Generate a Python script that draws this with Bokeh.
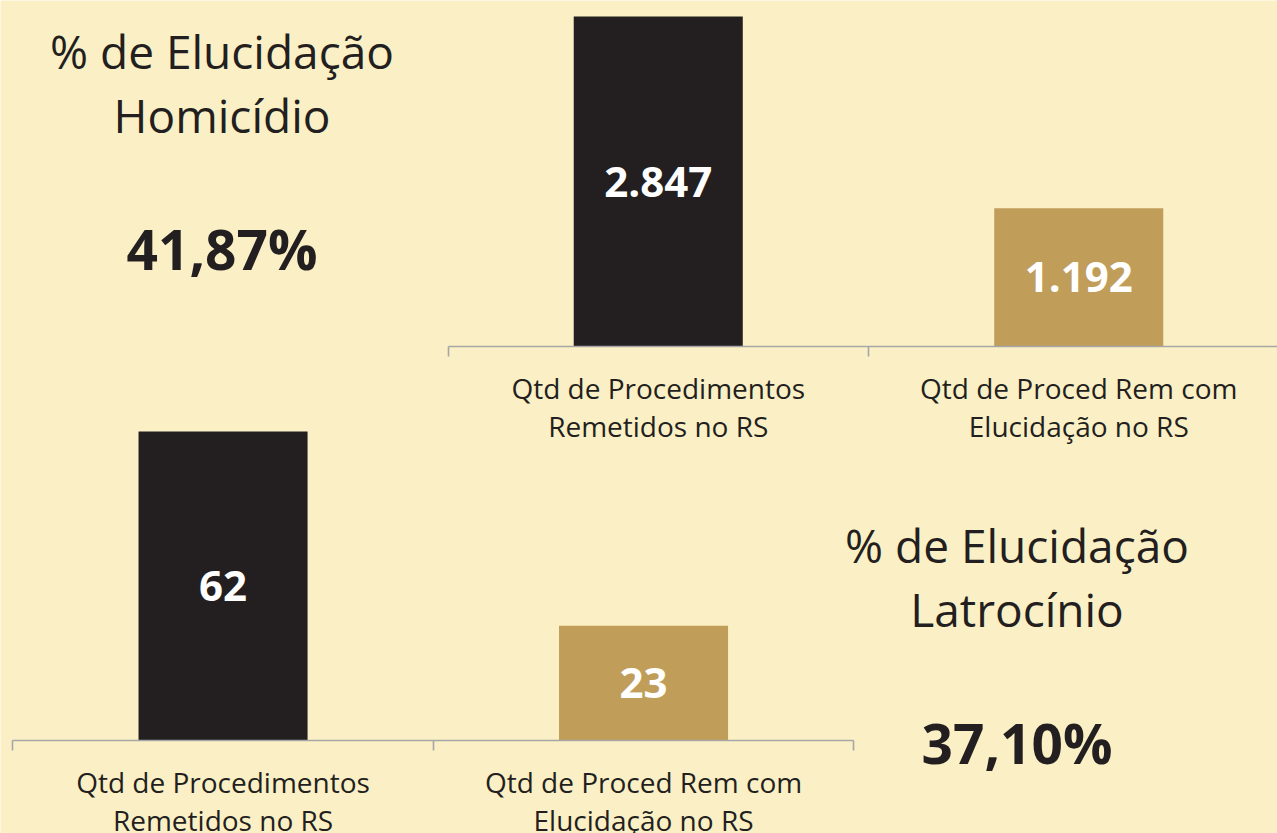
from bokeh.plotting import figure
from bokeh.models import Range1d, LinearAxis, FixedTicker, Label
from bokeh.core.properties import value
from bokeh.embed import file_html
from bokeh.resources import INLINE

# ---- data ----
categories = ["Qtd de Procedimentos\nRemetidos no RS",
              "Qtd de Proced Rem com\nElucidação no RS"]
homicidio_values = [2847, 1192]
latrocinio_values = [62, 23]
homicidio_title = ["% de Elucidação", "Homicídio"]
latrocinio_title = ["% de Elucidação", "Latrocínio"]
bar_colors = ["#231f20", "#c19d5a"]

BG = "#fbf0c5"
INK = "#231f20"
AXIS = "#a6a6a6"
FONT = "Open Sans"

W, H = 1277, 833
OFF = 0  # primary ranges are page pixel coordinates


def fmt_int(v):
    return f"{v:,}".replace(",", ".")


def fmt_pct(a, b):
    return f"{100.0 * a / b:.2f}".replace(".", ",") + "%"


def y_range(zero_px, top_px, top_val):
    s = (zero_px - top_px) / top_val
    return Range1d(start=-(OFF + H - zero_px) / s, end=(zero_px - OFF) / s)


def x_range(left_px, cat_w):
    # category i centred at i+1, boundaries at i+0.5
    return Range1d(start=0.5 + (OFF - left_px) / cat_w,
                   end=0.5 + (OFF + W - left_px) / cat_w)


p = figure(width=W, height=H, output_backend="svg", toolbar_location=None,
           x_range=Range1d(OFF, OFF + W), y_range=Range1d(OFF + H, OFF),
           x_axis_type=None, y_axis_type=None, min_border=0,
           background_fill_color=BG, border_fill_color=BG,
           outline_line_color=None)
p.grid.visible = False

p.extra_x_ranges = {"xt": x_range(447.5, 420.5), "xb": x_range(12.3, 420.5)}
p.extra_y_ranges = {"yt": y_range(346, 16, max(homicidio_values)),
                    "yb": y_range(740, 431, max(latrocinio_values))}

xs = [i + 1 for i in range(len(categories))]

for vals, xn, yn in [(homicidio_values, "xt", "yt"), (latrocinio_values, "xb", "yb")]:
    p.vbar(x=xs, top=vals, bottom=0, width=0.402, fill_color=bar_colors,
           line_color=None, x_range_name=xn, y_range_name=yn)
    p.text(x=xs, y=[v / 2 for v in vals], text=[fmt_int(v) for v in vals],
           x_range_name=xn, y_range_name=yn, text_align="center",
           text_baseline="middle", text_color="white",
           text_font=value(FONT), text_font_style="bold",
           text_font_size="42px")
    ax = LinearAxis(x_range_name=xn, y_range_name=yn, fixed_location=0,
                    ticker=FixedTicker(ticks=xs,
                                       minor_ticks=[i + 0.5 for i in range(len(categories) + 1)]),
                    bounds=(0.5, len(categories) + 0.5),
                    major_label_overrides={x: c for x, c in zip(xs, categories)})
    ax.axis_line_color = AXIS
    ax.axis_line_width = 1.6
    ax.major_tick_line_color = None
    ax.major_tick_out = 0
    ax.major_tick_in = 0
    ax.minor_tick_line_color = AXIS
    ax.minor_tick_line_width = 1.6
    ax.minor_tick_out = 10
    ax.minor_tick_in = 0
    ax.major_label_standoff = 12
    ax.major_label_text_font = FONT
    ax.major_label_text_font_size = "28px"
    ax.major_label_text_color = INK
    ax.major_label_text_line_height = 1.02
    p.add_layout(ax, "below")


def add_label(x, y, text, size, bold=False):
    # y is the visual baseline in page pixels
    p.add_layout(Label(x=x, y=y - 0.4 * size, text=text, text_align="center",
                       text_baseline="alphabetic", text_color=INK,
                       text_font=FONT, text_font_size=f"{size}px",
                       text_font_style="bold" if bold else "normal"))


add_label(221.5, 69, homicidio_title[0], 46)
add_label(221.5, 133, homicidio_title[1], 46)
add_label(221.5, 270, fmt_pct(homicidio_values[1], homicidio_values[0]), 55, True)

add_label(1016.5, 563, latrocinio_title[0], 46)
add_label(1016.5, 627, latrocinio_title[1], 46)
add_label(1016.5, 764, fmt_pct(latrocinio_values[1], latrocinio_values[0]), 55, True)

open("out.html", "w").write(file_html(p, INLINE))
